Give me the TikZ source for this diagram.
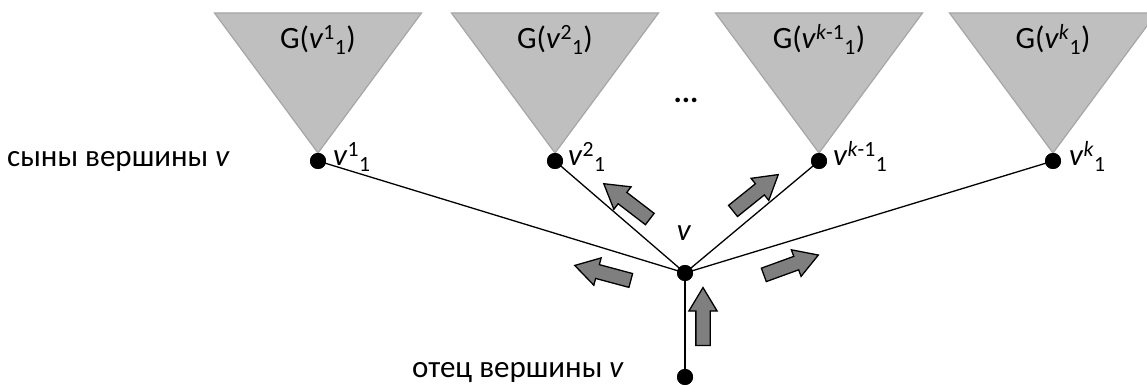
\documentclass[tikz,border=0pt]{standalone}
\usepackage{fontspec}
\setmainfont{Carlito}
\usetikzlibrary{shapes.arrows,calc}
\definecolor{trifill}{HTML}{BFBFBF}
\definecolor{triedge}{HTML}{A6A6A6}
\definecolor{arrfill}{HTML}{7F7F7F}
\tikzset{
  dotnode/.style={circle,fill=black,inner sep=0pt,minimum size=16pt},
  edge/.style={draw=black,line width=1.3pt},
  tri/.style={fill=trifill,draw=triedge,line width=1.2pt},
  blockarrow/.style={single arrow,draw=black,fill=arrfill,line width=1.3pt,
    inner xsep=0pt,inner ysep=6.5pt,minimum height=58pt,
    single arrow head extend=7pt,single arrow tip angle=62,
    single arrow head indent=0pt},
  txt/.style={inner sep=0pt,font=\fontsize{31}{37}\selectfont},
}
\begin{document}
\begin{tikzpicture}[x=1pt,y=1pt]
\useasboundingbox (0,0) rectangle (1147,385);
% vertex positions
\coordinate (v1c) at (318,224);
\coordinate (v2c) at (555,224);
\coordinate (v3c) at (819,224);
\coordinate (v4c) at (1053,224);
% triangles
\foreach \c in {v1c,v2c,v3c,v4c}{
  \path[tri] ($(\c)+(0,8)$) -- ($(\c)+(-103.5,148)$) -- ($(\c)+(103.5,148)$) -- cycle;
}
% nodes
\node[dotnode] (v) at (685,112) {};
\node[dotnode] (p) at (685,8) {};
\node[dotnode] (v1) at (v1c) {};
\node[dotnode] (v2) at (v2c) {};
\node[dotnode] (v3) at (v3c) {};
\node[dotnode] (v4) at (v4c) {};
% edges
\draw[edge] (v.center) -- (v1.center);
\draw[edge] (v.center) -- (v2.center);
\draw[edge] (v.center) -- (v3.center);
\draw[edge] (v.center) -- (v4.center);
\draw[edge] (v.center) -- (p.center);
% redraw dots on top
\foreach \n in {v,p,v1,v2,v3,v4}{\fill (\n.center) circle (8pt);}
% triangle labels
\node[txt,anchor=base] (g1) at (318,336) {G(\textit{v}\textsuperscript{1}\textsubscript{1})};
\node[txt,anchor=base] (g2) at (555,336) {G(\textit{v}\textsuperscript{2}\textsubscript{1})};
\node[txt,anchor=base] (g3) at (819,336) {G(\textit{v}\textsuperscript{\textit{k}-1}\textsubscript{1})};
\node[txt,anchor=base] (g4) at (1053,336) {G(\textit{v}\textsuperscript{\textit{k}}\textsubscript{1})};
% vertex labels
\node[txt,anchor=base west] (l1) at (333,219) {\textit{v}\textsuperscript{1}\textsubscript{1}};
\node[txt,anchor=base west] (l2) at (568,219) {\textit{v}\textsuperscript{2}\textsubscript{1}};
\node[txt,anchor=base west] (l3) at (833,219) {\textit{v}\textsuperscript{\textit{k}-1}\textsubscript{1}};
\node[txt,anchor=base west] (l4) at (1069,219) {\textit{v}\textsuperscript{\textit{k}}\textsubscript{1}};
\node[txt] (lv) at (684,152) {\textit{v}};
% ellipsis
\node[txt,font=\fontsize{31}{37}\selectfont\bfseries,anchor=base] (dots) at (686,282) {...};
% side texts
\node[txt,anchor=base west] (sons) at (7,218) {сыны вершины \textit{v}};
\node[txt,anchor=base west] (father) at (412,8) {отец вершины \textit{v}};
% block arrows
\node[blockarrow,rotate=90] (a0) at (703,62.5) {};
\node[blockarrow,rotate=165] (a1) at (608.5,110.5) {};
\node[blockarrow,rotate=142.5] (a2) at (631.5,180) {};
\node[blockarrow,rotate=38.8] (a3) at (751,188.5) {};
\node[blockarrow,rotate=20] (a4) at (785.5,118) {};
\end{tikzpicture}
\end{document}
